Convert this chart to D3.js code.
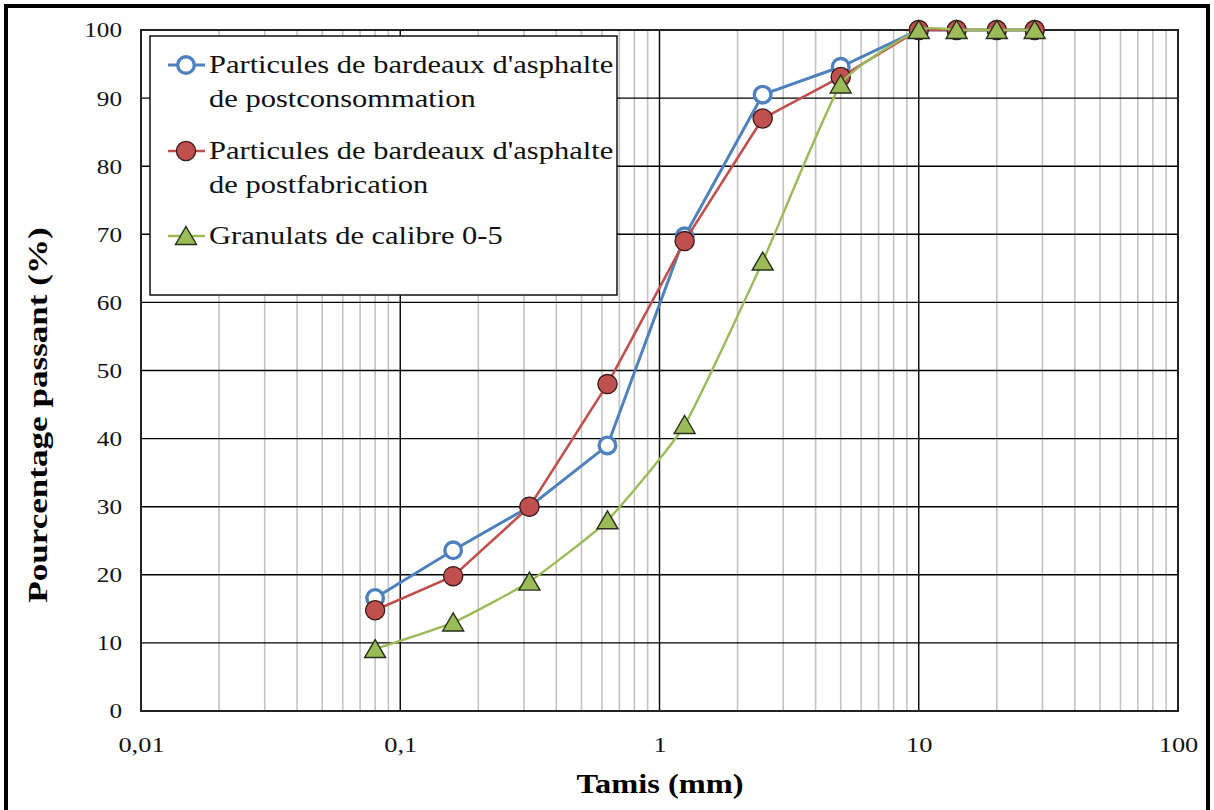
<!DOCTYPE html>
<html><head><meta charset="utf-8">
<script src="https://cdn.jsdelivr.net/npm/d3@7"></script>
<style>body{margin:0;background:#fff} svg{display:block}</style>
</head><body>
<svg id="chart" width="1214" height="810"></svg>
<script>
// Sieve openings (mm) and percentage passing for each material
const sieves = [0.08, 0.16, 0.315, 0.63, 1.25, 2.5, 5, 10, 14, 20, 28];
const postConsommation = [16.6, 23.6, 30, 39, 69.7, 90.5, 94.6, 100, 100, 100, 100];
const postFabrication = [14.8, 19.8, 30, 48, 69, 87, 93.1, 100, 100, 100, 100];
const granulats = [9.1, 13, 19, 28, 42, 66, 92, 100, 100, 100, 100];
const seriesNames = [
  ["Particules de bardeaux d'asphalte", "de postconsommation"],
  ["Particules de bardeaux d'asphalte", "de postfabrication"],
  ["Granulats de calibre 0-5"]
];
const xTickValues = [0.01, 0.1, 1, 10, 100];
const xTickLabels = ["0,01", "0,1", "1", "10", "100"];
const yTickValues = [0, 10, 20, 30, 40, 50, 60, 70, 80, 90, 100];
const xTitle = "Tamis (mm)";
const yTitle = "Pourcentage passant (%)";

const svg = d3.select("#chart");
const serif = "'Liberation Serif', 'Times New Roman', serif";
const wide = 1.2; // horizontal widening of the serif face
const plot = {left: 141, right: 1178, top: 30, bottom: 711};

const x = d3.scaleLog().domain([0.01, 100]).range([plot.left, plot.right]);
const y = d3.scaleLinear().domain([0, 100]).range([plot.bottom, plot.top]);

// outer frame
svg.append("rect").attr("x", 6).attr("y", 6).attr("width", 1202).attr("height", 820)
  .attr("fill", "none").attr("stroke", "#000").attr("stroke-width", 4);

// minor logarithmic gridlines
const minor = [];
[0.01, 0.1, 1, 10].forEach(d => { for (let k = 2; k <= 9; k++) minor.push(d * k); });
svg.append("g").selectAll("line").data(minor).join("line")
  .attr("x1", d => x(d)).attr("x2", d => x(d))
  .attr("y1", plot.top).attr("y2", plot.bottom)
  .attr("stroke", "#c2c2c2").attr("stroke-width", 1.6);

// major gridlines
svg.append("g").selectAll("line").data(xTickValues.slice(1, -1)).join("line")
  .attr("x1", d => x(d)).attr("x2", d => x(d))
  .attr("y1", plot.top).attr("y2", plot.bottom)
  .attr("stroke", "#000").attr("stroke-width", 1.4);
svg.append("g").selectAll("line").data(yTickValues.slice(1, -1)).join("line")
  .attr("x1", plot.left).attr("x2", plot.right)
  .attr("y1", d => y(d)).attr("y2", d => y(d))
  .attr("stroke", "#000").attr("stroke-width", 1.4);

// plot border
svg.append("rect").attr("x", plot.left).attr("y", plot.top)
  .attr("width", plot.right - plot.left).attr("height", plot.bottom - plot.top)
  .attr("fill", "none").attr("stroke", "#222").attr("stroke-width", 2);

// axis labels
const xAxis = d3.axisBottom(x).tickValues(xTickValues)
  .tickFormat((d, i) => xTickLabels[i]).tickSize(0);
svg.append("g").attr("transform", `translate(0,${plot.bottom})`).call(xAxis)
  .call(g => g.select(".domain").remove())
  .selectAll("text")
  .attr("font-family", serif).attr("font-size", 22).attr("fill", "#111")
  .attr("dy", null).attr("y", 0).attr("x", 0)
  .attr("transform", `translate(0,41) scale(${wide},1)`);

const yAxis = d3.axisLeft(y).tickValues(yTickValues).tickSize(0);
svg.append("g").attr("transform", `translate(${plot.left},0)`).call(yAxis)
  .call(g => g.select(".domain").remove())
  .selectAll("text")
  .attr("font-family", serif).attr("font-size", 21).attr("fill", "#111")
  .attr("x", 0).attr("dy", "0.33em")
  .attr("transform", `translate(-19,0) scale(${wide},1)`);

// axis titles
svg.append("text").attr("transform", `translate(660,793) scale(${wide},1)`)
  .attr("text-anchor", "middle")
  .attr("font-family", serif).attr("font-weight", "bold").attr("font-size", 27)
  .text(xTitle);
svg.append("text").attr("transform", `translate(47,415) rotate(-90) scale(1.3,1)`)
  .attr("text-anchor", "middle")
  .attr("font-family", serif).attr("font-weight", "bold").attr("font-size", 27)
  .text(yTitle);

// series
const colors = ["#4f81bd", "#c0504d", "#9bbb59"];
const lineWidths = [3, 2.6, 2.4];
const seriesValues = [postConsommation, postFabrication, granulats];
const curves = [d3.curveLinear, d3.curveLinear, d3.curveCardinal.tension(0.5)];
const triPath = "M0,-9.5L10.5,8.5L-10.5,8.5Z";

function drawMarker(g, i, cx, cy) {
  if (i === 0) {
    g.append("circle").attr("cx", cx).attr("cy", cy).attr("r", 8.3)
      .attr("fill", "#fff").attr("stroke", colors[0]).attr("stroke-width", 3.4);
  } else if (i === 1) {
    g.append("circle").attr("cx", cx).attr("cy", cy).attr("r", 9.6)
      .attr("fill", colors[1]).attr("stroke", "#3a1a19").attr("stroke-width", 1.3);
  } else {
    g.append("path").attr("d", triPath).attr("transform", `translate(${cx},${cy})`)
      .attr("fill", colors[2]).attr("stroke", "#26301a").attr("stroke-width", 1.4);
  }
}

seriesValues.forEach((vals, i) => {
  const pts = sieves.map((s, j) => [s, vals[j]]);
  const g = svg.append("g");
  g.append("path").datum(pts)
    .attr("d", d3.line().x(d => x(d[0])).y(d => y(d[1])).curve(curves[i]))
    .attr("fill", "none").attr("stroke", colors[i]).attr("stroke-width", lineWidths[i]);
  pts.forEach(p => drawMarker(g, i, x(p[0]), y(p[1])));
});

// legend
const lg = svg.append("g");
lg.append("rect").attr("x", 150).attr("y", 36).attr("width", 467).attr("height", 259)
  .attr("fill", "#fff").attr("stroke", "#111").attr("stroke-width", 1.5);
const rowY = [65, 151, 236];
seriesNames.forEach((lines, i) => {
  const yy = rowY[i];
  lg.append("line").attr("x1", 168).attr("x2", 205).attr("y1", yy).attr("y2", yy)
    .attr("stroke", colors[i]).attr("stroke-width", lineWidths[i]);
  drawMarker(lg, i, 186, yy);
  lines.forEach((t, k) => {
    lg.append("text").attr("transform", `translate(209,${yy + 8 + k * 34}) scale(1.22,1)`)
      .attr("font-family", serif).attr("font-size", 25).attr("fill", "#111").text(t);
  });
});
</script>
</body></html>
